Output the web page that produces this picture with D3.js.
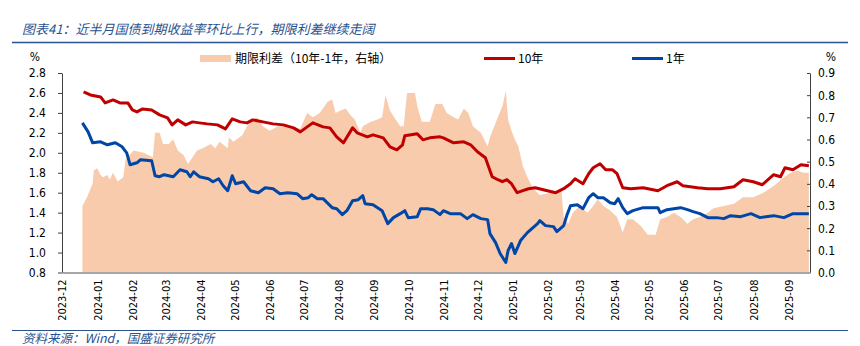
<!DOCTYPE html>
<html>
<head>
<meta charset="utf-8">
<script src="https://cdn.jsdelivr.net/npm/d3@7"></script>
<style>
  html, body { margin: 0; padding: 0; background: #fff; }
  svg { display: block; }
  .cn { font-family: "Noto Sans CJK SC", sans-serif; }
  .num { font-family: "DejaVu Sans Condensed", "DejaVu Sans", sans-serif; font-stretch: condensed; }
</style>
</head>
<body>
<svg id="chart" width="860" height="346"></svg>
<script>
// 10年国债到期收益率 (%)
var tenYear = [
  ["2023-12-20", 2.61], ["2023-12-26", 2.58], ["2024-01-04", 2.56], ["2024-01-08", 2.50],
  ["2024-01-15", 2.53], ["2024-01-21", 2.50], ["2024-01-28", 2.50], ["2024-02-01", 2.43],
  ["2024-02-05", 2.41], ["2024-02-10", 2.44], ["2024-02-18", 2.43], ["2024-02-25", 2.38],
  ["2024-03-03", 2.35], ["2024-03-07", 2.28], ["2024-03-12", 2.33], ["2024-03-19", 2.28],
  ["2024-03-25", 2.31], ["2024-03-31", 2.30], ["2024-04-07", 2.29], ["2024-04-16", 2.28],
  ["2024-04-23", 2.24], ["2024-04-29", 2.34], ["2024-05-06", 2.31], ["2024-05-12", 2.30],
  ["2024-05-17", 2.33], ["2024-05-26", 2.31], ["2024-06-04", 2.29], ["2024-06-13", 2.28],
  ["2024-06-22", 2.25], ["2024-06-28", 2.21], ["2024-07-04", 2.26], ["2024-07-09", 2.30],
  ["2024-07-18", 2.26], ["2024-07-24", 2.25], ["2024-07-30", 2.16], ["2024-08-05", 2.10],
  ["2024-08-13", 2.25], ["2024-08-17", 2.20], ["2024-08-26", 2.16], ["2024-08-31", 2.18],
  ["2024-09-09", 2.15], ["2024-09-15", 2.06], ["2024-09-21", 2.03], ["2024-09-26", 2.08],
  ["2024-09-28", 2.17], ["2024-10-09", 2.19], ["2024-10-14", 2.13], ["2024-10-20", 2.15],
  ["2024-10-29", 2.16], ["2024-11-01", 2.15], ["2024-11-10", 2.10], ["2024-11-19", 2.11],
  ["2024-11-25", 2.08], ["2024-12-01", 2.01], ["2024-12-08", 1.95], ["2024-12-14", 1.76],
  ["2024-12-19", 1.73], ["2024-12-23", 1.71], ["2024-12-27", 1.73], ["2024-12-31", 1.69],
  ["2025-01-05", 1.60], ["2025-01-10", 1.62], ["2025-01-15", 1.64], ["2025-01-21", 1.65],
  ["2025-01-28", 1.63], ["2025-02-08", 1.60], ["2025-02-15", 1.64], ["2025-02-21", 1.69],
  ["2025-02-25", 1.74], ["2025-03-04", 1.69], ["2025-03-09", 1.79], ["2025-03-13", 1.85],
  ["2025-03-19", 1.89], ["2025-03-24", 1.83], ["2025-03-30", 1.83], ["2025-04-03", 1.79],
  ["2025-04-08", 1.65], ["2025-04-15", 1.64], ["2025-04-26", 1.65], ["2025-05-09", 1.62],
  ["2025-05-17", 1.67], ["2025-05-26", 1.71], ["2025-05-31", 1.67], ["2025-06-13", 1.65],
  ["2025-06-22", 1.64], ["2025-07-03", 1.64], ["2025-07-15", 1.66], ["2025-07-23", 1.73],
  ["2025-08-01", 1.71], ["2025-08-09", 1.68], ["2025-08-19", 1.78], ["2025-08-25", 1.76],
  ["2025-08-29", 1.85], ["2025-09-05", 1.83], ["2025-09-12", 1.88], ["2025-09-19", 1.87]
];

// 1年国债到期收益率 (%)
var oneYear = [
  ["2023-12-19", 2.30], ["2023-12-24", 2.21], ["2023-12-28", 2.10], ["2024-01-04", 2.11],
  ["2024-01-10", 2.08], ["2024-01-17", 2.10], ["2024-01-23", 2.06], ["2024-01-27", 2.00],
  ["2024-01-30", 1.88], ["2024-02-05", 1.90], ["2024-02-08", 1.93], ["2024-02-18", 1.92],
  ["2024-02-21", 1.77], ["2024-02-25", 1.76], ["2024-02-29", 1.78], ["2024-03-08", 1.76],
  ["2024-03-14", 1.83], ["2024-03-20", 1.81], ["2024-03-23", 1.76], ["2024-03-26", 1.81],
  ["2024-03-31", 1.76], ["2024-04-08", 1.74], ["2024-04-12", 1.71], ["2024-04-17", 1.74],
  ["2024-04-21", 1.67], ["2024-04-25", 1.62], ["2024-04-29", 1.77], ["2024-05-02", 1.69],
  ["2024-05-09", 1.71], ["2024-05-15", 1.62], ["2024-05-22", 1.60], ["2024-05-28", 1.65],
  ["2024-06-04", 1.64], ["2024-06-10", 1.59], ["2024-06-17", 1.60], ["2024-06-25", 1.59],
  ["2024-06-30", 1.54], ["2024-07-05", 1.55], ["2024-07-08", 1.58], ["2024-07-13", 1.54],
  ["2024-07-18", 1.54], ["2024-07-26", 1.45], ["2024-07-30", 1.44], ["2024-08-04", 1.38],
  ["2024-08-08", 1.42], ["2024-08-13", 1.52], ["2024-08-18", 1.53], ["2024-08-22", 1.57],
  ["2024-08-24", 1.49], ["2024-08-31", 1.48], ["2024-09-08", 1.42], ["2024-09-13", 1.29],
  ["2024-09-18", 1.35], ["2024-09-24", 1.39], ["2024-09-28", 1.42], ["2024-10-01", 1.35],
  ["2024-10-09", 1.36], ["2024-10-12", 1.44], ["2024-10-18", 1.44], ["2024-10-23", 1.43],
  ["2024-10-29", 1.38], ["2024-11-01", 1.42], ["2024-11-07", 1.39], ["2024-11-16", 1.39],
  ["2024-11-22", 1.34], ["2024-11-27", 1.38], ["2024-12-04", 1.34], ["2024-12-10", 1.33],
  ["2024-12-12", 1.19], ["2024-12-17", 1.10], ["2024-12-21", 0.99], ["2024-12-26", 0.90],
  ["2024-12-28", 1.02], ["2024-12-31", 1.09], ["2025-01-03", 0.99], ["2025-01-08", 1.12],
  ["2025-01-14", 1.20], ["2025-01-18", 1.24], ["2025-01-23", 1.29], ["2025-01-25", 1.32],
  ["2025-01-30", 1.27], ["2025-02-06", 1.26], ["2025-02-09", 1.21], ["2025-02-15", 1.27],
  ["2025-02-18", 1.38], ["2025-02-21", 1.47], ["2025-02-27", 1.48], ["2025-03-04", 1.44],
  ["2025-03-09", 1.55], ["2025-03-13", 1.59], ["2025-03-17", 1.55], ["2025-03-22", 1.55],
  ["2025-03-28", 1.50], ["2025-04-01", 1.49], ["2025-04-04", 1.54], ["2025-04-08", 1.45],
  ["2025-04-12", 1.39], ["2025-04-17", 1.42], ["2025-04-26", 1.45], ["2025-05-09", 1.45],
  ["2025-05-11", 1.40], ["2025-05-17", 1.43], ["2025-05-29", 1.45], ["2025-06-04", 1.43],
  ["2025-06-09", 1.41], ["2025-06-15", 1.39], ["2025-06-22", 1.35], ["2025-06-30", 1.35],
  ["2025-07-06", 1.34], ["2025-07-12", 1.37], ["2025-07-21", 1.36], ["2025-07-30", 1.39],
  ["2025-08-07", 1.35], ["2025-08-19", 1.37], ["2025-08-28", 1.35], ["2025-09-05", 1.39],
  ["2025-09-19", 1.39]
];

// 期限利差 10年-1年 (%, 右轴)
var termSpread = [
  ["2023-12-19", 0.30], ["2023-12-23", 0.34], ["2023-12-28", 0.40], ["2023-12-29", 0.46],
  ["2024-01-01", 0.47], ["2024-01-04", 0.44], ["2024-01-06", 0.43], ["2024-01-10", 0.44],
  ["2024-01-12", 0.42], ["2024-01-15", 0.45], ["2024-01-19", 0.41], ["2024-01-24", 0.43],
  ["2024-01-26", 0.51], ["2024-02-02", 0.55], ["2024-02-11", 0.54], ["2024-02-19", 0.52],
  ["2024-02-21", 0.63], ["2024-02-25", 0.63], ["2024-02-28", 0.58], ["2024-03-04", 0.58],
  ["2024-03-08", 0.60], ["2024-03-12", 0.55], ["2024-03-17", 0.53], ["2024-03-21", 0.49],
  ["2024-03-25", 0.52], ["2024-03-29", 0.55], ["2024-04-03", 0.56], ["2024-04-10", 0.58],
  ["2024-04-14", 0.56], ["2024-04-18", 0.59], ["2024-04-25", 0.56], ["2024-04-26", 0.61],
  ["2024-04-30", 0.59], ["2024-05-08", 0.62], ["2024-05-12", 0.66], ["2024-05-17", 0.69],
  ["2024-05-21", 0.70], ["2024-05-26", 0.66], ["2024-06-01", 0.64], ["2024-06-08", 0.66],
  ["2024-06-16", 0.66], ["2024-06-22", 0.65], ["2024-06-28", 0.65], ["2024-07-04", 0.72],
  ["2024-07-09", 0.70], ["2024-07-15", 0.72], ["2024-07-22", 0.77], ["2024-07-26", 0.78],
  ["2024-07-29", 0.72], ["2024-08-02", 0.73], ["2024-08-07", 0.74], ["2024-08-11", 0.71],
  ["2024-08-15", 0.69], ["2024-08-20", 0.63], ["2024-08-22", 0.66], ["2024-08-29", 0.68],
  ["2024-09-04", 0.69], ["2024-09-08", 0.70], ["2024-09-11", 0.80], ["2024-09-15", 0.73],
  ["2024-09-20", 0.69], ["2024-09-24", 0.66], ["2024-09-27", 0.66], ["2024-09-30", 0.81],
  ["2024-10-07", 0.81], ["2024-10-09", 0.75], ["2024-10-13", 0.68], ["2024-10-20", 0.68],
  ["2024-10-25", 0.76], ["2024-10-31", 0.76], ["2024-11-04", 0.72], ["2024-11-10", 0.70],
  ["2024-11-14", 0.69], ["2024-11-19", 0.74], ["2024-11-23", 0.72], ["2024-11-27", 0.66],
  ["2024-12-04", 0.63], ["2024-12-10", 0.57], ["2024-12-12", 0.61], ["2024-12-19", 0.70],
  ["2024-12-23", 0.75], ["2024-12-26", 0.82], ["2024-12-28", 0.69], ["2024-12-31", 0.64],
  ["2025-01-03", 0.60], ["2025-01-06", 0.57], ["2025-01-10", 0.48], ["2025-01-14", 0.43],
  ["2025-01-19", 0.38], ["2025-01-25", 0.35], ["2025-02-03", 0.36], ["2025-02-13", 0.37],
  ["2025-02-15", 0.25], ["2025-02-19", 0.22], ["2025-02-23", 0.27], ["2025-03-01", 0.30],
  ["2025-03-08", 0.27], ["2025-03-13", 0.30], ["2025-03-17", 0.33], ["2025-03-22", 0.30],
  ["2025-03-28", 0.28], ["2025-04-03", 0.25], ["2025-04-08", 0.18], ["2025-04-12", 0.24],
  ["2025-04-17", 0.24], ["2025-04-24", 0.21], ["2025-04-30", 0.17], ["2025-05-07", 0.17],
  ["2025-05-11", 0.24], ["2025-05-17", 0.25], ["2025-05-23", 0.27], ["2025-05-29", 0.25],
  ["2025-06-04", 0.22], ["2025-06-09", 0.24], ["2025-06-15", 0.25], ["2025-06-22", 0.27],
  ["2025-06-27", 0.29], ["2025-07-06", 0.30], ["2025-07-15", 0.31], ["2025-07-23", 0.34],
  ["2025-08-01", 0.34], ["2025-08-10", 0.36], ["2025-08-19", 0.39], ["2025-08-28", 0.43],
  ["2025-09-03", 0.45], ["2025-09-09", 0.46], ["2025-09-14", 0.45], ["2025-09-19", 0.45]
];

var leftTicks = [0.8, 1.0, 1.2, 1.4, 1.6, 1.8, 2.0, 2.2, 2.4, 2.6, 2.8];
var rightTicks = [0.0, 0.1, 0.2, 0.3, 0.4, 0.5, 0.6, 0.7, 0.8, 0.9];

var titleText = "图表41：近半月国债到期收益率环比上行，期限利差继续走阔";
var sourceText = "资料来源：Wind，国盛证券研究所";
var legendItems = [
  { key: "spread", label: "期限利差（10年-1年，右轴）" },
  { key: "ten", label: "10年" },
  { key: "one", label: "1年" }
];

var colors = { spread: "#F8CBAD", ten: "#C00000", one: "#0046A6", brand: "#2A528F" };

var parse = d3.timeParse("%Y-%m-%d");
function rows(arr) { return arr.map(function (d) { return { date: parse(d[0]), value: d[1] }; }); }

var svg = d3.select("#chart");
var margin = { top: 73, right: 50, bottom: 73.5, left: 62 },
    width = 860 - margin.left - margin.right,
    height = 346 - margin.top - margin.bottom;

var x = d3.scaleTime()
    .domain([new Date(2023, 11, 1), new Date(2025, 8, 20)])
    .range([margin.left, margin.left + width]);
var yL = d3.scaleLinear().domain([0.8, 2.8]).range([margin.top + height, margin.top]);
var yR = d3.scaleLinear().domain([0, 0.9]).range([margin.top + height, margin.top]);

// title + rule
svg.append("text").attr("class", "cn")
    .attr("x", 22).attr("y", 34)
    .attr("font-size", 13).attr("font-style", "italic")
    .attr("fill", colors.brand)
    .text(titleText);
svg.append("line").attr("x1", 12).attr("x2", 848).attr("y1", 42.5).attr("y2", 42.5)
    .attr("stroke", colors.brand).attr("stroke-width", 1.5);

// spread area (right axis)
svg.append("path")
    .datum(rows(termSpread))
    .attr("fill", colors.spread)
    .attr("d", d3.area()
        .x(function (d) { return x(d.date); })
        .y0(yR(0))
        .y1(function (d) { return yR(d.value); }));

var line = d3.line()
    .x(function (d) { return x(d.date); })
    .y(function (d) { return yL(d.value); });

svg.append("path").datum(rows(tenYear))
    .attr("fill", "none").attr("stroke", colors.ten)
    .attr("stroke-width", 3).attr("stroke-linejoin", "round")
    .attr("d", line);
svg.append("path").datum(rows(oneYear))
    .attr("fill", "none").attr("stroke", colors.one)
    .attr("stroke-width", 3).attr("stroke-linejoin", "round")
    .attr("d", line);

// axes
var gL = svg.append("g").attr("class", "num")
    .attr("transform", "translate(" + margin.left + ",0)")
    .call(d3.axisLeft(yL).tickValues(leftTicks).tickFormat(d3.format(".1f"))
        .tickSize(4).tickPadding(12).tickSizeOuter(0));
var gR = svg.append("g").attr("class", "num")
    .attr("transform", "translate(" + (margin.left + width) + ",0)")
    .call(d3.axisRight(yR).tickValues(rightTicks).tickFormat(d3.format(".1f"))
        .tickSize(-3).tickPadding(8).tickSizeOuter(0));
[gL, gR].forEach(function (g) {
  g.select(".domain").attr("stroke", "#404040");
  g.selectAll(".tick line").attr("stroke", "#404040");
  g.selectAll(".tick text").attr("font-size", 12).attr("fill", "#000")
      .attr("font-family", null);
});

var months = d3.timeMonth.range(new Date(2023, 11, 1), new Date(2025, 8, 2));
var gX = svg.append("g").attr("class", "num")
    .attr("transform", "translate(0," + (margin.top + height) + ")")
    .call(d3.axisBottom(x).tickValues(months).tickFormat(d3.timeFormat("%Y-%m"))
        .tickSize(0).tickSizeOuter(0));
gX.select(".domain").attr("stroke", "#A6A6A6").attr("stroke-width", 2);
gX.selectAll(".tick text")
    .attr("font-size", 11).attr("fill", "#000").attr("font-family", null)
    .attr("text-anchor", "end")
    .attr("transform", "rotate(-90)")
    .attr("x", -7).attr("y", 0).attr("dy", "0.35em");

// axis units
svg.append("text").attr("class", "num").attr("x", 35).attr("y", 61)
    .attr("text-anchor", "middle").attr("font-size", 12).text("%");
svg.append("text").attr("class", "num").attr("x", 831).attr("y", 61)
    .attr("text-anchor", "middle").attr("font-size", 12).text("%");

// legend
var lg = svg.append("g").attr("class", "cn").attr("font-size", 12);
lg.append("rect").attr("x", 200).attr("y", 55).attr("width", 31).attr("height", 7)
    .attr("fill", colors.spread);
lg.append("text").attr("x", 235).attr("y", 63).text(legendItems[0].label);
lg.append("line").attr("x1", 484).attr("x2", 515).attr("y1", 58.5).attr("y2", 58.5)
    .attr("stroke", colors.ten).attr("stroke-width", 3);
lg.append("text").attr("x", 518).attr("y", 63).text(legendItems[1].label);
lg.append("line").attr("x1", 632).attr("x2", 663).attr("y1", 58.5).attr("y2", 58.5)
    .attr("stroke", colors.one).attr("stroke-width", 3);
lg.append("text").attr("x", 666).attr("y", 63).text(legendItems[2].label);

// source line
svg.append("line").attr("x1", 12).attr("x2", 848).attr("y1", 330.5).attr("y2", 330.5)
    .attr("stroke", colors.brand).attr("stroke-width", 1.2);
svg.append("text").attr("class", "cn")
    .attr("x", 22).attr("y", 343)
    .attr("font-size", 12.5).attr("font-style", "italic")
    .attr("fill", colors.brand)
    .text(sourceText);
</script>
</body>
</html>
